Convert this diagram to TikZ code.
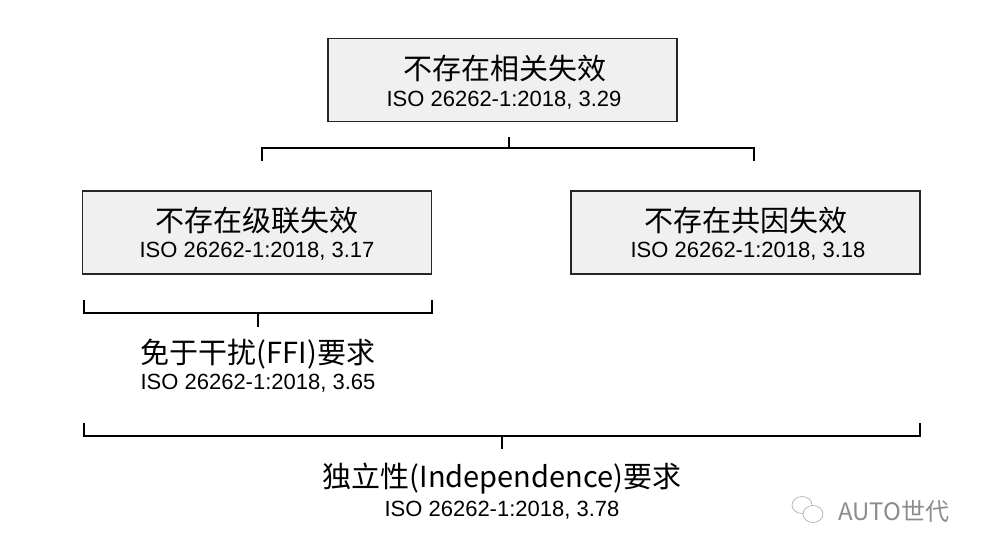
\documentclass[tikz,border=0pt]{standalone}
\usepackage{fontspec}
\setmainfont{Liberation Sans}
\newfontfamily\cjk{Noto Sans CJK SC}
\usetikzlibrary{positioning}
\tikzset{
  box/.style={draw=black!85, line width=1.6pt, fill=black!6, minimum width=349pt, minimum height=83pt, inner sep=0pt, align=center},
  title/.style={font=\fontsize{29}{34}\selectfont\cjk},
  refl/.style={font=\fontsize{22}{26}\selectfont},
  brk/.style={line width=2.2pt, line cap=rect},
  lbl/.style={align=center, inner sep=0pt},
}
\begin{document}
\begin{tikzpicture}[x=1pt,y=-1pt]
\useasboundingbox (0,0) rectangle (982,555);
% boxes
\node[box] (top) at (502.5,80) {};
\node[title] (topT) at (505,69) {不存在相关失效};
\node[refl] (topR) at (504,100) {ISO 26262-1:2018, 3.29};
\node[box] (casc) at (257,232.5) {};
\node[title] (cascT) at (257,221) {不存在级联失效};
\node[refl] (cascR) at (257,251) {ISO 26262-1:2018, 3.17};
\node[box] (ccf) at (745.5,232.5) {};
\node[title] (ccfT) at (745.5,221) {不存在共因失效};
\node[refl] (ccfR) at (748,251) {ISO 26262-1:2018, 3.18};
% FFI
\node[title] (ffiT) at (258,354) {免于干扰(FFI)要求};
\node[refl] (ffiR) at (258,383) {ISO 26262-1:2018, 3.65};
% independence
\node[title] (indT) at (502,479) {独立性(Independence)要求};
\node[refl] (indR) at (502,510) {ISO 26262-1:2018, 3.78};
% brackets
\coordinate (b1c) at (509,148);
\coordinate (b1l) at (262,148);
\coordinate (b1r) at (754,148);
\draw[brk] (b1c |- top.south) ++(0,16) -- (b1c);
\draw[brk] (b1l) ++(0,12) -- (b1l) -- (b1r) -- ++(0,12);
\coordinate (b2l) at (84,313);
\coordinate (b2r) at (432,313);
\coordinate (b2c) at (258,313);
\draw[brk] (b2l) ++(0,-12) -- (b2l) -- (b2r) -- ++(0,-12);
\draw[brk] (b2c) -- ++(0,13);
\coordinate (b3l) at (84,436);
\coordinate (b3r) at (920,436);
\coordinate (b3c) at (502,436);
\draw[brk] (b3l) ++(0,-12) -- (b3l) -- (b3r) -- ++(0,-12);
\draw[brk] (b3c) -- ++(0,12);
% watermark
\draw[black!35, line width=0.6pt] (802,505) ellipse (10pt and 8.5pt);
\draw[black!35, line width=0.6pt, fill=white] (813,514) ellipse (10pt and 8.5pt);
\node[font=\fontsize{24}{28}\selectfont\cjk, text=black!45, anchor=west, inner sep=0pt] (wm) at (838,511) {AUTO世代};
\end{tikzpicture}
\end{document}
